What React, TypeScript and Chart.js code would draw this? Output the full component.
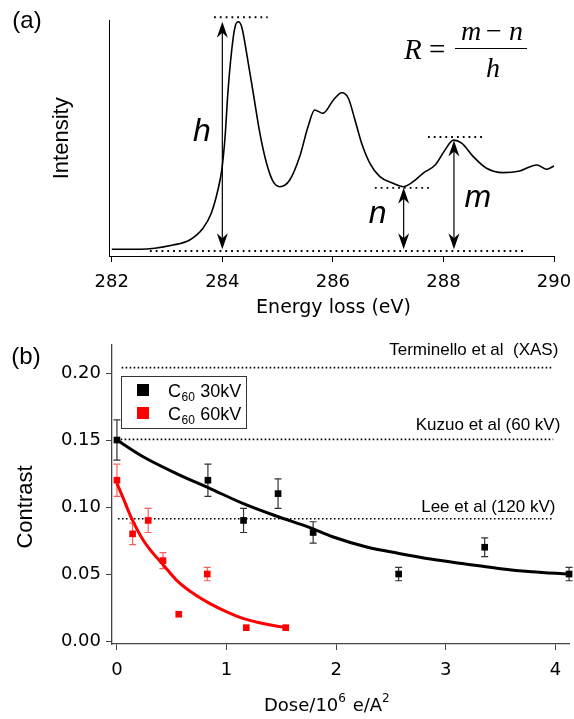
import React, { useEffect, useRef } from 'react';
import { Chart, registerables } from 'chart.js';
Chart.register(...registerables);

// ---------- Panel (a): EELS spectrum ----------
const energy = [282.0, 282.51, 283.11, 283.41, 283.65, 283.8, 283.92, 283.99, 284.05, 284.1, 284.17, 284.23, 284.29, 284.35, 284.44, 284.56, 284.68, 284.8, 284.92, 285.04, 285.22, 285.4, 285.55, 285.67, 285.82, 286.01, 286.16, 286.28, 286.4, 286.52, 286.67, 286.85, 287.09, 287.27, 287.45, 287.63, 287.85, 288.03, 288.18, 288.33, 288.54, 288.78, 289.08, 289.38, 289.69, 289.87, 290.0];
const intensity = [2.8, 2.8, 4.6, 6.7, 11.6, 17.9, 27.6, 36.0, 49.9, 68.1, 86.2, 95.9, 98.0, 95.9, 84.8, 68.1, 51.3, 38.8, 31.1, 29.0, 31.8, 41.6, 54.1, 61.1, 59.7, 65.3, 68.3, 66.0, 56.9, 47.2, 38.8, 33.2, 30.4, 29.0, 31.1, 34.6, 38.1, 44.4, 48.5, 47.2, 41.6, 36.7, 34.9, 35.6, 38.1, 36.3, 37.7];
const energyTicks = [282, 284, 286, 288, 290];
// dotted guide lines
const guideX1 = [283.85, 282.69, 286.76, 287.72];
const guideX2 = [284.82, 289.51, 287.76, 288.71];
const guideY = [99.9, 2.1, 28.5, 49.8];
// double arrows h, n, m
const arrowX = [284.0, 287.28, 288.19];
const arrowTop = [98.0, 28.6, 48.3];
const arrowBottom = [2.8, 2.8, 2.8];
const arrowLabels = ['h', 'n', 'm'];
const arrowLabelX = [283.63, 286.81, 288.62];
const arrowLabelY = [51.9, 17.6, 24.3];

// ---------- Panel (b): contrast vs dose ----------
const dose30 = [0, 0.83, 1.155, 1.47, 1.79, 2.57, 3.355, 4.125];
const contrast30 = [0.15, 0.12, 0.09, 0.11, 0.081, 0.05, 0.07, 0.05];
const err30 = [0.015, 0.012, 0.009, 0.011, 0.008, 0.005, 0.007, 0.005];
const dose60 = [0, 0.143, 0.285, 0.42, 0.564, 0.824, 1.18, 1.54];
const contrast60 = [0.12, 0.08, 0.09, 0.06, 0.02, 0.05, 0.01, 0.01];
const err60 = [0.012, 0.008, 0.009, 0.006, 0, 0.005, 0, 0];
const fit30X = [0, 0.239, 0.543, 0.845, 1.148, 1.452, 1.755, 1.967, 2.27, 2.573, 2.876, 3.179, 3.482, 3.785, 4.118];
const fit30Y = [0.15, 0.1375, 0.125, 0.114, 0.1027, 0.0933, 0.0848, 0.0778, 0.0704, 0.0654, 0.061, 0.0575, 0.0542, 0.0517, 0.05];
const fit60X = [0, 0.058, 0.134, 0.239, 0.33, 0.421, 0.543, 0.694, 0.845, 0.997, 1.148, 1.3, 1.452, 1.54];
const fit60Y = [0.1177, 0.1065, 0.0916, 0.0754, 0.0654, 0.057, 0.0455, 0.0356, 0.0281, 0.0219, 0.0169, 0.0137, 0.0112, 0.0102];
const seriesLabels = ['30kV', '60kV'];
const seriesColors = ['#000000', '#ff0000'];
const errColors = ['#333333', 'rgba(255,40,40,0.75)'];
const doseTicks = [0, 1, 2, 3, 4];
const contrastTicks = [0, 0.05, 0.1, 0.15, 0.2];
const refY = [0.204, 0.1505, 0.0913];
const refX1 = [0.043, 0.034, 0.009];
const refX2 = [3.98, 3.98, 3.98];
const refLabels = ['Terminello et al  (XAS)', 'Kuzuo et al (60 kV)', 'Lee et al (120 kV)'];
const refLabelX = [4.027, 4.045, 4.0];
const refLabelY = [0.2172, 0.1612, 0.1];

const SANS = '"Liberation Sans", Arial, sans-serif';
const DJ = '"DejaVu Sans", sans-serif';
const SERIF = '"Liberation Serif", "DejaVu Serif", serif';

function arrowHead(ctx: CanvasRenderingContext2D, x: number, yTip: number, dir: number) {
  const L = 16, w = 5.5, notch = 11;
  ctx.beginPath();
  ctx.moveTo(x, yTip);
  ctx.lineTo(x - w, yTip - dir * L);
  ctx.lineTo(x, yTip - dir * notch);
  ctx.lineTo(x + w, yTip - dir * L);
  ctx.closePath();
  ctx.fill();
}

const annotA = {
  id: 'annotA',
  afterDraw(chart: any) {
    const ctx: CanvasRenderingContext2D = chart.ctx;
    const xs = chart.scales.x, ys = chart.scales.y;
    const ca = chart.chartArea;
    ctx.save();
    ctx.fillStyle = '#000';
    ctx.strokeStyle = '#000';
    // arrows
    ctx.lineWidth = 1.2;
    arrowX.forEach((ev, i) => {
      const x = xs.getPixelForValue(ev);
      const yt = ys.getPixelForValue(arrowTop[i]);
      const yb = ys.getPixelForValue(arrowBottom[i]);
      ctx.beginPath();
      ctx.moveTo(x, yt + 8);
      ctx.lineTo(x, yb - 8);
      ctx.stroke();
      arrowHead(ctx, x, yt, -1);
      arrowHead(ctx, x, yb, 1);
    });
    // italic labels
    ctx.font = 'italic 32px ' + SANS;
    ctx.textAlign = 'center';
    ctx.textBaseline = 'middle';
    arrowLabels.forEach((t, i) => {
      ctx.fillText(t, xs.getPixelForValue(arrowLabelX[i]), ys.getPixelForValue(arrowLabelY[i]));
    });
    // formula R = (m - n)/h
    ctx.textBaseline = 'alphabetic';
    ctx.textAlign = 'left';
    ctx.font = 'italic 29px ' + SERIF;
    ctx.fillText('R', 404, 59);
    ctx.font = '29px ' + SERIF;
    ctx.fillText('=', 429, 59);
    ctx.textAlign = 'center';
    ctx.font = 'italic 28px ' + SERIF;
    ctx.fillText('m', 471, 40);
    ctx.font = '28px ' + SERIF;
    ctx.fillText('\u2212', 494, 40);
    ctx.font = 'italic 28px ' + SERIF;
    ctx.fillText('n', 516, 40);
    ctx.fillText('h', 493, 77);
    ctx.lineWidth = 1;
    ctx.beginPath();
    ctx.moveTo(455, 48.5);
    ctx.lineTo(527, 48.5);
    ctx.stroke();
    // panel label
    ctx.font = '24px ' + SANS;
    ctx.textAlign = 'center';
    ctx.textBaseline = 'middle';
    ctx.fillText('(a)', 27, 21);
    // axis titles
    ctx.font = '19px ' + DJ;
    ctx.fillText('Energy loss (eV)', (ca.left + ca.right) / 2 + 2, 308);
    ctx.translate(62, (ca.top + ca.bottom) / 2);
    ctx.rotate(-Math.PI / 2);
    ctx.font = '22px ' + SANS;
    ctx.fillText('Intensity', 0, 0);
    ctx.restore();
  },
};

const errorBars = {
  id: 'errorBars',
  beforeDatasetsDraw(chart: any) {
    const ctx: CanvasRenderingContext2D = chart.ctx;
    const xs = chart.scales.x, ys = chart.scales.y;
    const sets = [[dose30, contrast30, err30], [dose60, contrast60, err60]];
    ctx.save();
    sets.forEach((s, k) => {
      ctx.strokeStyle = errColors[k];
      ctx.lineWidth = 1.2;
      s[0].forEach((d, i) => {
        const e = s[2][i];
        if (!e) return;
        const x = xs.getPixelForValue(d);
        const y1 = ys.getPixelForValue(s[1][i] + e);
        const y2 = ys.getPixelForValue(s[1][i] - e);
        ctx.beginPath();
        ctx.moveTo(x, y1); ctx.lineTo(x, y2);
        ctx.moveTo(x - 3.5, y1); ctx.lineTo(x + 3.5, y1);
        ctx.moveTo(x - 3.5, y2); ctx.lineTo(x + 3.5, y2);
        ctx.stroke();
      });
    });
    ctx.restore();
  },
};

const annotB = {
  id: 'annotB',
  afterDraw(chart: any) {
    const ctx: CanvasRenderingContext2D = chart.ctx;
    const xs = chart.scales.x, ys = chart.scales.y;
    ctx.save();
    ctx.fillStyle = '#000';
    // reference labels
    ctx.font = '17px ' + SANS;
    ctx.textAlign = 'right';
    ctx.textBaseline = 'middle';
    refLabels.forEach((t, i) => {
      ctx.fillText(t, xs.getPixelForValue(refLabelX[i]), ys.getPixelForValue(refLabelY[i]));
    });
    // legend
    ctx.strokeStyle = '#333';
    ctx.lineWidth = 1;
    ctx.fillStyle = '#fff';
    ctx.fillRect(121, 46, 126, 53);
    ctx.strokeRect(121.5, 46.5, 125, 52);
    seriesLabels.forEach((t, i) => {
      const cy = 60 + 23 * i;
      ctx.fillStyle = seriesColors[i];
      ctx.fillRect(137, cy - 6, 12, 12);
      ctx.fillStyle = '#000';
      ctx.textAlign = 'left';
      ctx.textBaseline = 'alphabetic';
      ctx.font = '18px ' + SANS;
      const base = cy + 7;
      ctx.fillText('C', 168, base);
      const cw = ctx.measureText('C').width;
      ctx.font = '12px ' + SANS;
      ctx.fillText('60', 168 + cw + 0.5, base + 4);
      const sw = ctx.measureText('60').width;
      ctx.font = '18px ' + SANS;
      ctx.fillText(' ' + t, 168 + cw + sw + 1, base);
    });
    // panel label
    ctx.fillStyle = '#000';
    ctx.font = '24px ' + SANS;
    ctx.textAlign = 'center';
    ctx.textBaseline = 'middle';
    ctx.fillText('(b)', 26, 27);
    // x title with superscripts
    ctx.textAlign = 'left';
    ctx.textBaseline = 'alphabetic';
    let x = 264;
    const by = 381;
    const parts: [string, boolean][] = [['Dose/10', false], ['6', true], [' e/A', false], ['2', true]];
    parts.forEach(([s, sup]) => {
      ctx.font = (sup ? '12px ' : '18px ') + DJ;
      ctx.fillText(s, x, sup ? by - 9 : by);
      x += ctx.measureText(s).width + (sup ? 1 : 0);
    });
    // y title
    ctx.textAlign = 'center';
    ctx.textBaseline = 'middle';
    ctx.translate(26, 177);
    ctx.rotate(-Math.PI / 2);
    ctx.font = '22px ' + SANS;
    ctx.fillText('Contrast', 0, 0);
    ctx.restore();
  },
};

export default function App() {
  const refA = useRef<HTMLCanvasElement>(null);
  const refB = useRef<HTMLCanvasElement>(null);
  useEffect(() => {
    const lineDs = (xs: number[], ys: number[], color: string, width: number, dash: number[] = []) => ({
      data: xs.map((x, i) => ({ x, y: ys[i] })),
      showLine: true,
      borderColor: color,
      backgroundColor: color,
      borderWidth: width,
      borderDash: dash,
      pointRadius: 0,
      pointHoverRadius: 0,
      cubicInterpolationMode: 'monotone',
      clip: false,
    });
    const xFit = (h: number) => (s: any) => {
      s.height = h;
      s.paddingLeft = 0;
      s.paddingRight = 0;
    };
    const chartA = new Chart(refA.current as HTMLCanvasElement, {
      type: 'scatter',
      data: {
        datasets: [
          lineDs(energy, intensity, '#000', 1.6),
          ...guideY.map((y, i) => lineDs([guideX1[i], guideX2[i]], [y, y], '#000', 1.8, [1.8, 4])),
        ] as any,
      },
      options: {
        animation: false,
        responsive: false,
        devicePixelRatio: 1,
        events: [],
        layout: { padding: { top: 20.6, right: 20, left: 0, bottom: 0 } },
        plugins: { legend: { display: false }, tooltip: { enabled: false } },
        scales: {
          x: {
            type: 'linear',
            min: 281.95,
            max: 290,
            afterBuildTicks: (s: any) => { s.ticks = energyTicks.map((v) => ({ value: v })); },
            afterFit: xFit(69),
            grid: { drawOnChartArea: false, tickLength: 6, color: '#000' },
            border: { color: '#000', width: 1 },
            ticks: { font: { family: 'DejaVu Sans', size: 18 }, color: '#000', padding: 10, maxRotation: 0, autoSkip: false },
          },
          y: {
            type: 'linear',
            min: 0,
            max: 98.5,
            afterFit: (s: any) => { s.width = 109; s.paddingTop = 0; s.paddingBottom = 0; },
            grid: { drawOnChartArea: false, drawTicks: false },
            border: { color: '#000', width: 1 },
            ticks: { display: false },
          },
        },
      } as any,
      plugins: [annotA],
    });

    const chartB = new Chart(refB.current as HTMLCanvasElement, {
      type: 'scatter',
      data: {
        datasets: [
          {
            data: dose30.map((x, i) => ({ x, y: contrast30[i] })),
            pointStyle: 'rect', pointRadius: 4.7, pointBorderWidth: 0,
            backgroundColor: seriesColors[0], borderColor: seriesColors[0], clip: false,
          },
          {
            data: dose60.map((x, i) => ({ x, y: contrast60[i] })),
            pointStyle: 'rect', pointRadius: 4.7, pointBorderWidth: 0,
            backgroundColor: seriesColors[1], borderColor: seriesColors[1], clip: false,
          },
          lineDs(fit30X, fit30Y, seriesColors[0], 3),
          lineDs(fit60X, fit60Y, seriesColors[1], 3),
          ...refY.map((y, i) => lineDs([refX1[i], refX2[i]], [y, y], '#000', 1.6, [1.6, 2.4])),
        ] as any,
      },
      options: {
        animation: false,
        responsive: false,
        devicePixelRatio: 1,
        events: [],
        layout: { padding: { top: 15, right: 3, left: 0, bottom: 0 } },
        plugins: { legend: { display: false }, tooltip: { enabled: false } },
        scales: {
          x: {
            type: 'linear',
            min: -0.045,
            max: 4.127,
            afterBuildTicks: (s: any) => { s.ticks = doseTicks.map((v) => ({ value: v })); },
            afterFit: xFit(75),
            grid: { drawOnChartArea: false, tickLength: 6, color: '#444' },
            border: { color: '#444', width: 1.3 },
            ticks: { font: { family: 'DejaVu Sans', size: 18 }, color: '#000', padding: 10, maxRotation: 0, autoSkip: false },
          },
          y: {
            type: 'linear',
            min: -0.0022,
            max: 0.2209,
            afterBuildTicks: (s: any) => { s.ticks = contrastTicks.map((v) => ({ value: v })); },
            afterFit: (s: any) => { s.width = 112; s.paddingTop = 0; s.paddingBottom = 0; },
            grid: { drawOnChartArea: false, tickLength: 6, color: '#444' },
            border: { color: '#444', width: 1.3 },
            ticks: {
              font: { family: 'DejaVu Sans', size: 18 }, color: '#000', padding: 5, autoSkip: false,
              callback: (v: any) => Number(v).toFixed(2),
            },
          },
        },
      } as any,
      plugins: [errorBars, annotB],
    });
    return () => { chartA.destroy(); chartB.destroy(); };
  }, []);
  return (
    <div style={{ position: 'absolute', left: 0, top: 0, width: 574, height: 719, background: '#fff' }}>
      <canvas ref={refA} width={574} height={325} style={{ position: 'absolute', left: 0, top: 0, width: 574, height: 325 }} />
      <canvas ref={refB} width={574} height={389} style={{ position: 'absolute', left: 0, top: 330, width: 574, height: 389 }} />
    </div>
  );
}
